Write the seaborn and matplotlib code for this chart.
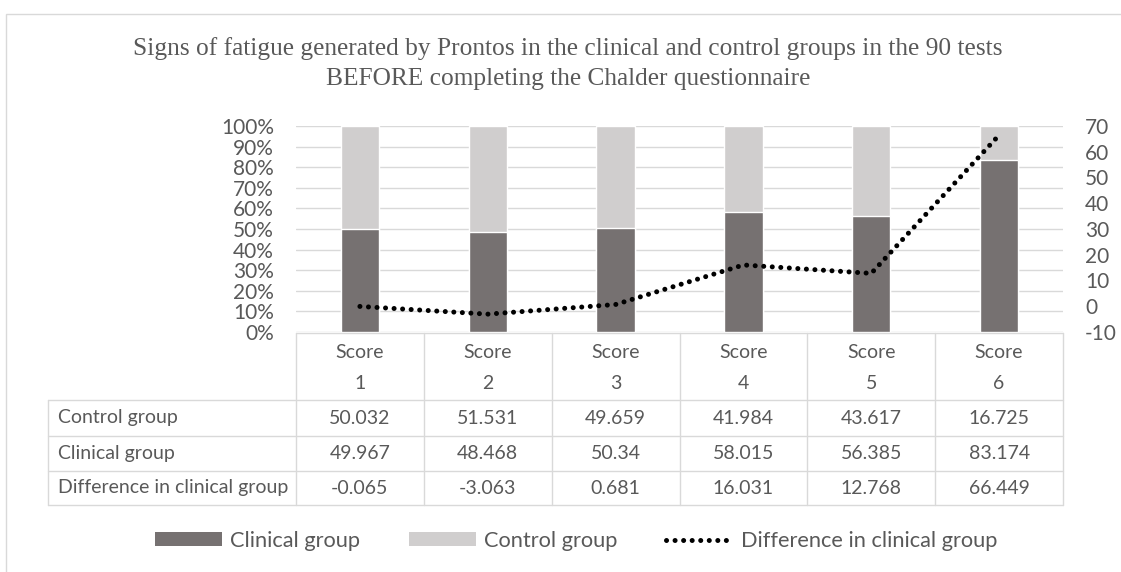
import numpy as np
import matplotlib
matplotlib.use("Agg")
import matplotlib.pyplot as plt
from matplotlib.patches import Patch, Rectangle
from matplotlib.lines import Line2D
from matplotlib.ticker import PercentFormatter
import seaborn as sns

# Data
scores = ["1", "2", "3", "4", "5", "6"]
control = [50.032, 51.531, 49.659, 41.984, 43.617, 16.725]
clinical = [49.967, 48.468, 50.34, 58.015, 56.385, 83.174]
difference = [-0.065, -3.063, 0.681, 16.031, 12.768, 66.449]
row_names = ["Control group", "Clinical group", "Difference in clinical group"]

DARK = "#767171"
LIGHT = "#D0CECE"
GRID = "#D9D9D9"
TXT = "#595959"

sns.set_theme(style="white")
plt.rcParams["font.family"] = ["Lato", "DejaVu Sans"]
plt.rcParams["text.color"] = TXT
plt.rcParams["axes.unicode_minus"] = False

W, H = 1121, 572
def fx(x):
    return x / W
def fy(y):
    return 1 - y / H

fig = plt.figure(figsize=(W / 100, H / 100), dpi=100)
fig.patch.set_facecolor("white")

# outer chart frame (cropped on right and bottom)
fig.patches.append(Rectangle((fx(6), -0.2), 1.5, fy(14) + 0.2, transform=fig.transFigure,
                             fill=False, edgecolor=GRID, lw=1))

L, R, T, B = 296, 1063, 126, 332
ax = fig.add_axes([fx(L), fy(B), (R - L) / W, (B - T) / H])

total = np.array(clinical) + np.array(control)
share_clin = np.array(clinical) / total
share_all = total / total

sns.barplot(x=scores, y=share_all, color=LIGHT, saturation=1, width=0.3, ax=ax)
sns.barplot(x=scores, y=share_clin, color=DARK, saturation=1, width=0.3, ax=ax)
ax.set_xlim(-0.5, len(scores) - 0.5)
ax.set_ylim(0, 1)
ax.set_yticks(np.arange(0, 1.01, 0.1))
ax.yaxis.set_major_formatter(PercentFormatter(1.0, decimals=0))
ax.grid(axis="y", color=GRID, lw=1)
ax.set_axisbelow(True)
ax.set_xlabel("")
ax.set_ylabel("")
for s in ax.spines.values():
    s.set_visible(False)
ax.set_xticks(range(len(scores)))
ax.set_xticklabels([f"Score\n{s}" for s in scores], linespacing=2.0)
ax.tick_params(axis="x", length=0, pad=8.5, labelsize=14, labelcolor=TXT)
ax.tick_params(axis="y", length=0, pad=16, labelsize=15, labelcolor=TXT)

ax2 = ax.twinx()
sns.lineplot(x=np.arange(len(scores)), y=difference, ax=ax2, color="black", lw=3.6,
             linestyle=(0, (0.01, 1.7)), dash_capstyle="round")
ax2.set_ylim(-10, 70)
ax2.set_yticks(range(-10, 71, 10))
ax2.tick_params(axis="y", length=0, pad=16, labelsize=15, labelcolor=TXT)
ax2.set_ylabel("")
for s in ax2.spines.values():
    s.set_visible(False)

# data table under the chart
TL = 48
col_w = (R - L) / len(scores)
row_lines = [400, 436, 471, 505]
lkw = dict(transform=fig.transFigure, color=GRID, lw=1)
fig.add_artist(Line2D([fx(L), fx(R)], [fy(B + 1), fy(B + 1)], **lkw))
for y in row_lines:
    fig.add_artist(Line2D([fx(TL), fx(R)], [fy(y), fy(y)], **lkw))
fig.add_artist(Line2D([fx(TL), fx(TL)], [fy(row_lines[0]), fy(row_lines[-1])], **lkw))
for k in range(len(scores) + 1):
    x = L + k * col_w
    fig.add_artist(Line2D([fx(x), fx(x)], [fy(B + 1), fy(row_lines[-1])], **lkw))

rows = [control, clinical, difference]
for i, (name, vals) in enumerate(zip(row_names, rows)):
    yc = (row_lines[i] + row_lines[i + 1]) / 2
    fig.text(fx(TL + 10), fy(yc), name, ha="left", va="center", fontsize=14, color=TXT)
    for j, v in enumerate(vals):
        fig.text(fx(L + (j + 0.5) * col_w), fy(yc), f"{v:g}", ha="center", va="center",
                 fontsize=14, color=TXT)

# title
fig.text(fx(568), fy(37), "Signs of fatigue generated by Prontos in the clinical and control groups in the 90 tests\n"
         "BEFORE completing the Chalder questionnaire", ha="center", va="top",
         fontfamily="Liberation Serif", fontsize=18.3, color=TXT, linespacing=1.5)

# legend
handles = [Patch(facecolor=DARK, edgecolor="none"),
           Patch(facecolor=LIGHT, edgecolor="none"),
           Line2D([], [], color="black", lw=3.6, linestyle=(0, (0.01, 1.7)), dash_capstyle="round")]
labels = ["Clinical group", "Control group", "Difference in clinical group"]
fig.legend(handles, labels, loc="center", bbox_to_anchor=(fx(576), fy(541)), ncol=3,
           frameon=False, fontsize=15.7, handlelength=3.1, handleheight=0.6,
           handletextpad=0.33, columnspacing=2.25)

fig.savefig("out.png", dpi=100)
